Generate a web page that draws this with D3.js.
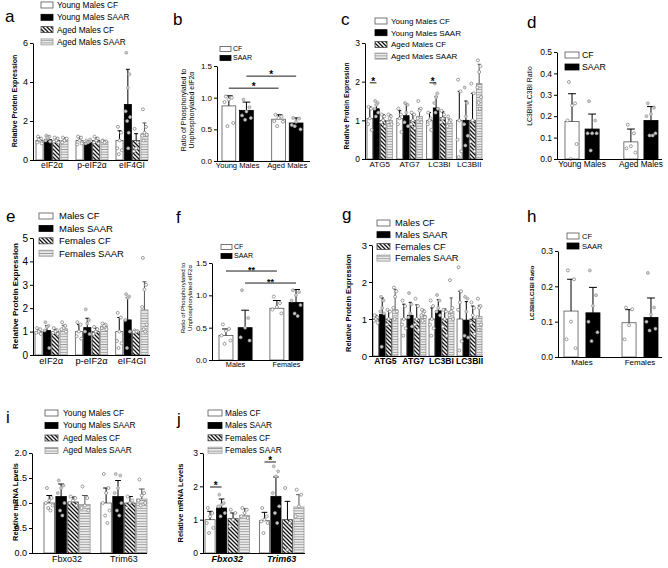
<!DOCTYPE html>
<html><head><meta charset="utf-8">
<script src="https://cdn.jsdelivr.net/npm/d3@7"></script>
<style>body{margin:0;background:#fff} svg{display:block} text{font-family:"Liberation Sans",Arial,sans-serif}</style>
</head><body><svg id="c" width="668" height="568"></svg>
<script>
// ---------- DATA ----------
const agingSeries = ["Young Males CF","Young Males SAAR","Aged Males CF","Aged Males SAAR"];
const sexSeries = ["Males CF","Males SAAR","Females CF","Females SAAR"];
const twoSeries = ["CF","SAAR"];
const initiationFactors = ["eIF2α","p-eIF2α","eIF4GI"];
const autophagyMarkers = ["ATG5","ATG7","LC3BI","LC3BII"];
const agingGroups = ["Young Males","Aged Males"];
const sexGroups = ["Males","Females"];
const atrogenes = ["Fbxo32","Trim63"];

// means[series][category], errors (SD, upper), points[series][category][]
const aMeans = [[1.0,1.0,1.0],[1.05,0.9,2.85],[1.0,1.0,1.0],[1.0,0.95,1.35]];
const aErrors = [[0.15,0.2,0.5],[0.2,0.1,1.8],[0.15,0.15,0.35],[0.15,0.05,0.55]];
const aPoints = [
 [[1.2,1.1,1.0,0.9,0.85,1.05],[1.2,1.15,1.0,0.8,0.85],[1.7,1.4,1.0,0.6,0.5,0.3]],
 [[1.25,1.2,1.1,1.0,0.95,1.15],[1.0,0.95,0.9,0.85,1.05],[5.5,4.4,3.7,2.5,2.2,2.0,1.4,0.6]],
 [[1.15,1.1,1.0,0.95,0.9],[1.2,1.1,1.0,0.9,0.85],[1.6,0.9,0.6,0.45]],
 [[1.15,1.05,1.0,0.9,1.1],[1.0,0.95,0.9,0.97],[2.6,1.7,1.4,1.25,1.3,1.0]]
];
const aTicks = [0,2,4,6];

const bMeans = [[0.87,0.66],[0.80,0.60]];
const bErrors = [[0.16,0.07],[0.13,0.08]];
const bPoints = [
 [[1.02,1.0,0.97,0.93,0.6,0.55],[0.73,0.7,0.68,0.63,0.62,0.55]],
 [[0.97,0.85,0.78,0.72,0.68,0.65],[0.68,0.67,0.62,0.57,0.5,0.55]]
];
const bTicks = [0,0.5,1.0,1.5];
const bSig = [["Young Males",0,"Aged Males",0,1.15,"*"],["Young Males",1,"Aged Males",1,1.34,"*"]];

const cMeans = [[1.05,1.05,1.0,1.0],[1.3,1.12,1.32,1.0],[1.0,1.0,1.07,1.0],[1.0,1.1,0.93,1.95]];
const cErrors = [[0.3,0.2,0.2,0.75],[0.1,0.3,0.3,0.5],[0.15,0.15,0.15,0.7],[0.15,0.2,0.1,0.5]];
const cPoints = [
 [[1.35,1.3,1.05,0.9,0.75],[1.3,1.15,1.05,0.9,0.7],[1.2,1.05,1.0,0.9,0.75],[2.05,1.75,1.0,0.5,0.2,0.05]],
 [[1.5,1.45,1.4,1.3,1.2,1.1],[1.45,1.4,1.2,0.95,0.85],[1.95,1.7,1.6,1.45,1.3,1.2],[1.85,1.45,1.1,0.9,0.6,0.35]],
 [[1.15,1.1,1.0,0.95,0.85],[1.2,1.15,1.0,0.9,0.8],[1.25,1.15,1.05,0.95],[1.95,1.7,1.0,0.45,0.2]],
 [[1.15,1.1,1.05,0.95,0.9],[1.5,1.3,1.25,1.05,0.95],[1.1,1.0,0.95,0.85],[2.55,2.4,2.25,1.85,1.6,1.45,1.3]]
];
const cTicks = [0,1,2,3];
const cSig = [["ATG5",0,"ATG5",1,1.97,"*"],["LC3BI",0,"LC3BI",1,1.97,"*"]];

const dMeans = [[0.175,0.08],[0.14,0.18]];
const dErrors = [[0.13,0.06],[0.07,0.065]];
const dPoints = [
 [[0.36,0.26,0.25,0.18,0.07,0.0],[0.16,0.12,0.06,0.05,0.03]],
 [[0.27,0.18,0.12,0.12,0.12,0.04],[0.26,0.24,0.21,0.2,0.12,0.11,0.11]]
];
const dTicks = [0,0.1,0.2,0.3,0.4,0.5];

const eMeans = [[1.0,1.0,1.0],[1.05,1.17,1.5],[1.0,1.0,1.0],[1.12,1.23,1.93]];
const eErrors = [[0.1,0.3,0.6],[0.2,0.4,0.95],[0.1,0.15,0.05],[0.15,0.1,1.2]];
const ePoints = [
 [[1.15,1.1,1.0,0.95,0.9],[1.4,1.3,1.0,0.8,0.7],[1.8,1.6,1.0,0.6,0.5,0.3]],
 [[1.4,1.25,1.2,1.05,0.3],[1.95,1.5,1.35,1.0,0.9],[2.6,2.5,2.45,1.5,1.0,0.3]],
 [[1.15,1.05,1.0,0.95,0.9],[1.2,1.1,1.0,0.9],[1.05,1.02,1.0,0.98]],
 [[1.4,1.25,1.15,1.1,1.0],[1.35,1.3,1.25,1.15,1.1],[4.15,3.0,2.8,2.05,1.3,1.1,1.0]]
];
const eTicks = [0,1,2,3,4,5];

const fMeans = [[0.38,0.8],[0.5,0.89]];
const fErrors = [[0.1,0.12],[0.27,0.2]];
const fPoints = [
 [[0.55,0.48,0.45,0.38,0.3,0.25],[0.98,0.88,0.82,0.78,0.72]],
 [[1.08,0.65,0.5,0.35,0.3],[1.08,1.05,1.0,0.92,0.85,0.72,0.68]]
];
const fTicks = [0,0.5,1.0,1.5];
const fSig = [["Males",0,"Females",0,1.376,"**"],["Males",1,"Females",1,1.19,"**"]];

const gMeans = [[1.0,1.0,1.0,1.0],[1.12,1.1,1.22,0.97],[1.0,1.0,1.0,1.0],[1.25,1.1,1.2,1.07]];
const gErrors = [[0.1,0.4,0.3,0.75],[0.45,0.35,0.3,0.5],[0.22,0.38,0.27,0.35],[0.55,0.15,0.37,0.3]];
const gPoints = [
 [[1.1,1.05,1.0,0.95,0.9],[1.5,1.35,1.0,0.85,0.75,0.55],[1.5,1.35,1.0,0.85,0.75,0.55],[2.4,1.75,1.45,1.25,0.4,0.15]],
 [[1.6,1.5,1.3,1.2,1.15,0.25],[1.7,1.4,1.15,1.05,0.8],[1.65,1.5,1.3,1.2,1.1],[1.6,1.55,1.2,0.55,0.5]],
 [[1.25,1.2,1.0,0.85],[1.55,1.35,1.0,0.85,0.7],[1.25,1.2,1.0,0.8,0.55],[1.45,1.3,1.1,0.9,0.6]],
 [[1.85,1.75,1.6,1.3,1.2,1.0],[1.25,1.2,1.15,1.1,1.05,0.95],[2.05,1.3,1.2,1.1,1.0],[1.55,1.35,1.3,1.05,0.85,0.7]]
];
const gTicks = [0,1,2,3];

const hMeans = [[0.13,0.097],[0.125,0.112]];
const hErrors = [[0.09,0.037],[0.072,0.055]];
const hPoints = [
 [[0.245,0.22,0.1,0.05,0.025],[0.14,0.135,0.09,0.05]],
 [[0.245,0.175,0.145,0.1,0.07,0.045],[0.238,0.14,0.12,0.1,0.08,0.075]]
];
const hTicks = [0,0.1,0.2,0.3];

const iMeans = [[1.0,1.0],[1.13,1.13],[1.02,1.0],[0.97,1.08]];
const iErrors = [[0.15,0.3],[0.25,0.32],[0.1,0.13],[0.18,0.2]];
const iPoints = [
 [[1.3,1.1,1.05,1.0,0.95,0.9,0.85],[1.58,1.3,1.2,1.0,0.85,0.75,0.6]],
 [[1.45,1.35,1.3,1.2,1.0,0.85,0.75],[1.58,1.55,1.3,1.2,1.0,0.85,0.75]],
 [[1.13,1.1,1.05,1.0,0.95],[1.13,1.05,1.0,0.9]],
 [[1.33,1.1,0.95,0.9,0.85],[1.47,1.2,1.15,1.05,1.0,0.95]]
];
const iTicks = [0,0.5,1.0,1.5,2.0];

const jMeans = [[1.0,0.97],[1.35,1.7],[1.03,1.0],[1.13,1.38]];
const jErrors = [[0.25,0.25],[0.27,0.58],[0.17,0.55],[0.2,0.37]];
const jPoints = [
 [[1.35,1.2,1.1,0.9,0.75,0.6],[1.35,1.1,1.0,0.95,0.9,0.6]],
 [[1.75,1.5,1.45,1.4,1.2,1.1],[2.6,2.45,2.3,1.8,1.4,1.2,0.9]],
 [[1.3,1.2,1.0,0.8],[1.95,0.9,0.1]],
 [[1.35,1.3,1.2,1.1,1.05],[1.9,1.75,1.4,1.1,1.0]]
];
const jTicks = [0,1,2,3];
const jSig = [["Fbxo32",0,"Fbxo32",1,1.98,"*"],["Trim63",0,"Trim63",1,2.73,"*"]];

// ---------- LAYOUT ----------
const layout = [
 {letter:"a",lp:[5,22],cats:initiationFactors,series:agingSeries,means:aMeans,errs:aErrors,pts:aPoints,ymax:6,ticks:aTicks,fmt:"d",y0:160,y1:43,ax:[33,148],band:[36,148],pi:0.2,spi:0.15,tickFs:9,catFs:8.5,ylab:["Relative Protein Expression"],ylabX:[15],ylabY:101,ylabFs:7,ylabBold:true,leg:{x:41,y:5,dy:12.3,w:12,h:6,fs:8.3,tx:57},sig:[]},
 {letter:"b",lp:[173,25],cats:agingGroups,series:twoSeries,means:bMeans,errs:bErrors,pts:bPoints,ymax:1.5,ticks:bTicks,fmt:".1f",y0:161,y1:66,ax:[217,310],band:[222,303],pi:0.37,spi:0.22,tickFs:8,catFs:7.6,ylab:["Ratio of Phosphorylated to","Unphosphorylated eIF2α"],ylabX:[184,192],ylabY:110,ylabFs:7,ylabBold:false,leg:{x:220,y:49,dy:9,w:11,h:5,fs:7,tx:233},sig:bSig,sigFs:10},
 {letter:"c",lp:[341,25],cats:autophagyMarkers,series:agingSeries,means:cMeans,errs:cErrors,pts:cPoints,ymax:3,ticks:cTicks,fmt:"d",y0:159,y1:43,ax:[365,483],band:[367,482],pi:0.145,spi:0.15,tickFs:8.5,catFs:8,ylab:["Relative Protein Expression"],ylabX:[347],ylabY:106,ylabFs:6.6,ylabBold:true,leg:{x:375,y:21,dy:11.7,w:12,h:6,fs:8,tx:391},sig:cSig,sigFs:10},
 {letter:"d",lp:[527,28],cats:agingGroups,series:twoSeries,means:dMeans,errs:dErrors,pts:dPoints,ymax:0.5,ticks:dTicks,fmt:".1f",y0:159,y1:52,ax:[557,662],band:[565,658],pi:0.42,spi:0.3,tickFs:8.5,catFs:8.3,ylab:["LC3BII/LC3BI Ratio"],ylabX:[530],ylabY:96,ylabFs:6.8,ylabBold:false,leg:{x:565,y:55,dy:12,w:14,h:6,fs:8.8,tx:582},sig:[]},
 {letter:"e",lp:[6,222],cats:initiationFactors,series:sexSeries,means:eMeans,errs:eErrors,pts:ePoints,ymax:5,ticks:eTicks,fmt:"d",y0:355,y1:238,ax:[33,150],band:[35,148],pi:0.2,spi:0.15,tickFs:10,catFs:9.3,ylab:["Relative Protein Expression"],ylabX:[15],ylabY:296,ylabFs:8,ylabBold:true,leg:{x:39,y:216,dy:12.4,w:14,h:6,fs:9.5,tx:59},sig:[]},
 {letter:"f",lp:[176,223],cats:sexGroups,series:twoSeries,means:fMeans,errs:fErrors,pts:fPoints,ymax:1.5,ticks:fTicks,fmt:".1f",y0:360,y1:263,ax:[212,303],band:[219,303],pi:0.35,spi:0.27,tickFs:8,catFs:7.3,ylab:["Ratio of Phosphorylated to","Unphosphorylated eIF2α"],ylabX:[183,190],ylabY:298,ylabFs:6,ylabBold:false,leg:{x:221,y:247,dy:9,w:11,h:5,fs:7,tx:234},sig:fSig,sigFs:9},
 {letter:"g",lp:[342,220],cats:autophagyMarkers,series:sexSeries,means:gMeans,errs:gErrors,pts:gPoints,ymax:3,ticks:gTicks,fmt:"d",y0:356,y1:245,ax:[372,483],band:[373,482],pi:0.11,spi:0.13,tickFs:9.5,catFs:8.6,catBold:true,ylab:["Relative Protein Expression"],ylabX:[348],ylabY:303,ylabFs:7.4,ylabBold:true,leg:{x:377,y:223,dy:11.7,w:13,h:6,fs:9.3,tx:395},sig:[]},
 {letter:"h",lp:[527,222],cats:sexGroups,series:twoSeries,means:hMeans,errs:hErrors,pts:hPoints,ymax:0.3,ticks:hTicks,fmt:".1f",y0:357,y1:251,ax:[558,662],band:[564,658],pi:0.38,spi:0.36,tickFs:8.5,catFs:8,ylab:["LC3BII/LC3BI Ratio"],ylabX:[532],ylabY:293,ylabFs:6,ylabBold:true,leg:{x:567,y:236,dy:10,w:12,h:6,fs:7.5,tx:582},sig:[]},
 {letter:"i",lp:[6,423],cats:atrogenes,series:agingSeries,means:iMeans,errs:iErrors,pts:iPoints,ymax:2,ticks:iTicks,fmt:".1f",y0:553,y1:453,ax:[32,147],band:[44,147],pi:0.19,spi:0.12,tickFs:9,catFs:9,ylab:["Relative mRNA Levels"],ylabX:[15],ylabY:502,ylabFs:7.4,ylabBold:true,leg:{x:45,y:413,dy:12.5,w:13,h:6,fs:8.3,tx:63},sig:[]},
 {letter:"j",lp:[177,425],cats:atrogenes,series:sexSeries,means:jMeans,errs:jErrors,pts:jPoints,ymax:3,ticks:jTicks,fmt:"d",y0:553,y1:453,ax:[203,305],band:[205,304],pi:0.18,spi:0.12,tickFs:8.5,catFs:9,catBold:true,catItalic:true,ylab:["Relative mRNA Levels"],ylabX:[180],ylabY:503,ylabFs:7.5,ylabBold:true,leg:{x:208,y:413,dy:12.4,w:14,h:6,fs:8.3,tx:225},sig:jSig,sigFs:10}
];

// ---------- DRAW ----------
const svg = d3.select("#c");
const defs = svg.append("defs");
const diag = defs.append("pattern").attr("id","diag").attr("patternUnits","userSpaceOnUse").attr("width",4).attr("height",4);
diag.append("rect").attr("width",4).attr("height",4).attr("fill","#fff");
diag.append("path").attr("d","M-1,-1L5,5M-1,3L1,5M3,-1L5,1").attr("stroke","#111").attr("stroke-width",1.3);
const hl = defs.append("pattern").attr("id","hl").attr("patternUnits","userSpaceOnUse").attr("width",4).attr("height",2.6);
hl.append("rect").attr("width",4).attr("height",2.6).attr("fill","#fff");
hl.append("line").attr("x1",0).attr("x2",4).attr("y1",1.3).attr("y2",1.3).attr("stroke","#9a9a9a").attr("stroke-width",1.2);

const fills = ["#fff","#000","url(#diag)","url(#hl)"];
const strokes = ["#555","#000","#444","#999"];
const jitter = [-0.22,0.22,0,-0.32,0.32,-0.1,0.12,0.05];

function panel(cfg){
  const g = svg.append("g");
  const y = d3.scaleLinear().domain([0,cfg.ymax]).range([cfg.y0,cfg.y1]);
  const x0 = d3.scaleBand().domain(cfg.cats).range(cfg.band).paddingInner(cfg.pi).paddingOuter(0);
  const x1 = d3.scaleBand().domain(d3.range(cfg.series.length)).range([0,x0.bandwidth()]).paddingInner(cfg.spi);
  const bw = x1.bandwidth();

  // letter
  g.append("text").attr("x",cfg.lp[0]).attr("y",cfg.lp[1]).attr("font-size",17).text(cfg.letter);

  // bars
  cfg.series.forEach((s,si)=>{
    cfg.cats.forEach((c,ci)=>{
      const bx = x0(c)+x1(si), m = cfg.means[si][ci];
      g.append("rect").attr("x",bx).attr("y",y(m)).attr("width",bw).attr("height",cfg.y0-y(m))
        .attr("fill",fills[si]).attr("stroke",strokes[si]).attr("stroke-width",0.8);
    });
  });
  // error bars & points
  cfg.series.forEach((s,si)=>{
    cfg.cats.forEach((c,ci)=>{
      const cx = x0(c)+x1(si)+bw/2, m = cfg.means[si][ci], e = cfg.errs[si][ci];
      const col = si===3 ? "#555" : "#000";
      g.append("line").attr("x1",cx).attr("x2",cx).attr("y1",y(m)).attr("y2",y(m+e)).attr("stroke",col).attr("stroke-width",1);
      g.append("line").attr("x1",cx-bw*0.28).attr("x2",cx+bw*0.28).attr("y1",y(m+e)).attr("y2",y(m+e)).attr("stroke",col).attr("stroke-width",1);
      cfg.pts[si][ci].forEach((v,k)=>{
        g.append("circle").attr("cx",cx+jitter[k%jitter.length]*bw).attr("cy",y(v)).attr("r",1.5)
          .attr("fill",si===1?"#ccc":"#fff").attr("stroke",si===1?"#999":"#777").attr("stroke-width",0.7);
      });
    });
  });

  // y axis
  const ya = g.append("g").attr("transform",`translate(${cfg.ax[0]},0)`)
    .call(d3.axisLeft(y).tickValues(cfg.ticks).tickFormat(d3.format(cfg.fmt)).tickSize(3).tickSizeOuter(0).tickPadding(2));
  ya.selectAll("text").attr("font-size",cfg.tickFs).attr("font-family","Liberation Sans, Arial, sans-serif").attr("fill","#000");
  ya.selectAll("line,path").attr("stroke","#000");
  // x axis line
  g.append("line").attr("x1",cfg.ax[0]).attr("x2",cfg.ax[1]).attr("y1",cfg.y0+0.5).attr("y2",cfg.y0+0.5).attr("stroke","#000").attr("stroke-width",1);
  // category labels
  cfg.cats.forEach(c=>{
    g.append("text").attr("x",x0(c)+x0.bandwidth()/2).attr("y",cfg.y0+cfg.catFs*0.98)
      .attr("text-anchor","middle").attr("font-size",cfg.catFs)
      .attr("font-weight",cfg.catBold?"bold":"normal").attr("font-style",cfg.catItalic?"italic":"normal").text(c);
  });
  // y label
  cfg.ylab.forEach((t,li)=>{
    g.append("text").attr("transform",`translate(${cfg.ylabX[li]},${cfg.ylabY}) rotate(-90)`)
      .attr("text-anchor","middle").attr("dy","0.35em").attr("font-size",cfg.ylabFs)
      .attr("font-weight",cfg.ylabBold?"bold":"normal").text(t);
  });
  // legend
  const L = cfg.leg;
  cfg.series.forEach((s,si)=>{
    const ry = L.y + si*L.dy;
    g.append("rect").attr("x",L.x).attr("y",ry-L.h/2).attr("width",L.w).attr("height",L.h)
      .attr("fill",fills[si]).attr("stroke",strokes[si]).attr("stroke-width",0.8);
    g.append("text").attr("x",L.tx).attr("y",ry).attr("dy","0.35em").attr("font-size",L.fs).text(s);
  });
  // significance
  cfg.sig.forEach(sg=>{
    const xa = x0(sg[0])+x1(sg[1])+bw/2, xb = x0(sg[2])+x1(sg[3])+bw/2, yy = y(sg[4]);
    g.append("line").attr("x1",xa).attr("x2",xb).attr("y1",yy).attr("y2",yy).attr("stroke","#000").attr("stroke-width",0.9);
    g.append("text").attr("x",(xa+xb)/2).attr("y",yy+cfg.sigFs*0.2).attr("text-anchor","middle")
      .attr("font-size",cfg.sigFs).attr("font-weight","bold").text(sg[5]);
  });
}
layout.forEach(panel);
</script></body></html>
